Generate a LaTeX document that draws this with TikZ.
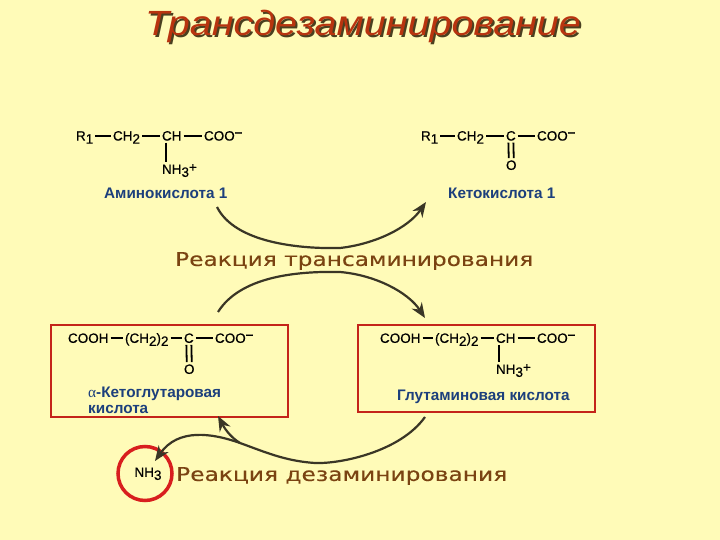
\documentclass[tikz,border=0pt]{standalone}
\usepackage{graphicx}
\usepackage{fontspec}
\setmainfont{Liberation Sans}
\newfontfamily\chemf[FakeBold=0.45]{Liberation Sans}
\newfontfamily\greekf{Liberation Serif}
\newfontfamily\rfont[FakeBold=0.2]{DejaVu Sans}
\usetikzlibrary{arrows.meta}
\definecolor{bgc}{HTML}{FFFBB8}
\definecolor{boxred}{HTML}{C4241A}
\definecolor{ringred}{HTML}{D81E1E}
\definecolor{navy}{HTML}{1C3F7C}
\definecolor{brownc}{HTML}{7A4312}
\definecolor{titlec}{HTML}{B8340F}
\definecolor{shadowc}{HTML}{4A4020}
\definecolor{curvec}{HTML}{3A3626}
\newcommand{\lowr}[1]{\raisebox{-3pt}{#1}}
\newcommand{\minusup}{\raisebox{4pt}{\textbf{–}}}
\newcommand{\plusup}{\raisebox{2pt}{+}}
\tikzset{
  chem/.style={inner sep=0pt,outer sep=2pt,anchor=west,xshift=-2pt,text height=9.7pt,text depth=0pt,
    font=\chemf\fontsize{13.5}{15}\selectfont,text=black},
  bond/.style={line width=1.8pt,black},
  namelabel/.style={inner sep=0pt,anchor=west,font=\bfseries\fontsize{15.3}{16}\selectfont,text=navy,align=left},
  frame/.style={draw=boxred,line width=2.8pt,fill=none},
  curve/.style={draw=curvec,line width=2.2pt},
  head/.style={curve,-{Stealth[length=15pt,width=12pt]}},
  reaction/.style={inner sep=0pt,anchor=west,text=brownc},
  titletext/.style={inner sep=0pt,font=\itshape\fontsize{35}{40}\selectfont}
}
\begin{document}
\begin{tikzpicture}[x=1pt,y=-1pt]
\useasboundingbox (0,0) rectangle (720,540);
\fill[bgc] (0,0) rectangle (720,540);
% title
\node[titletext,text=shadowc] (titleshadow) at (365,28.5) {\resizebox{436pt}{\height}{Трансдезаминирование}};
\node[titletext,text=titlec] (title) at (363,26.5) {\resizebox{436pt}{\height}{Трансдезаминирование}};
% amino acid 1
\node[chem] (ar) at (76,135.7) {R\lowr{1}};
\node[chem] (ach) at (113,135.7) {CH\lowr{2}};
\node[chem] (ac) at (162,135.7) {CH};
\node[chem] (acoo) at (204,135.7) {COO\minusup};
\node[chem] (anh) at (162,169) {NH\lowr{3}\plusup};
\draw[bond] (ar.east) -- (ach.west);
\draw[bond] (ach.east) -- (ac.west);
\draw[bond] (ac.east) -- (acoo.west);
\draw[bond] ([xshift=6pt]ac.south west) -- ([xshift=6pt]anh.north west);
\node[namelabel] (aname) at (104,193) {Аминокислота 1};
% keto acid 1
\node[chem] (kr) at (421,135.7) {R\lowr{1}};
\node[chem] (kch) at (457,135.7) {CH\lowr{2}};
\node[chem] (kc) at (506,135.7) {C};
\node[chem] (kcoo) at (537,135.7) {COO\minusup};
\node[chem] (ko) at (506,165) {O};
\draw[bond] (kr.east) -- (kch.west);
\draw[bond] (kch.east) -- (kc.west);
\draw[bond] (kc.east) -- (kcoo.west);
\draw[bond] ([xshift=-2.5pt]kc.south) -- ([xshift=-2.5pt]ko.north);
\draw[bond] ([xshift=2.5pt]kc.south) -- ([xshift=2.5pt]ko.north);
\node[namelabel] (kname) at (448,193) {Кетокислота 1};
% reaction labels
\node[reaction] (trans) at (175,261) {\resizebox{358pt}{\height}{\rfont\fontsize{19}{22}\selectfont Реакция трансаминирования}};
\node[reaction] (deam) at (176,476) {\resizebox{331pt}{\height}{\rfont\fontsize{19}{22}\selectfont Реакция дезаминирования}};
% boxes
\node[frame,inner sep=0pt,minimum width=237pt,minimum height=92pt] (leftbox) at (169.5,371) {};
\node[frame,inner sep=0pt,minimum width=237pt,minimum height=87pt] (rightbox) at (476.5,368.5) {};
% alpha-ketoglutarate
\node[chem] (lcooh) at (68,338) {COOH};
\node[chem] (lch) at (125,338) {(CH\lowr{2})\lowr{2}};
\node[chem] (lc) at (184,338) {C};
\node[chem] (lcoo) at (215,338) {COO\minusup};
\node[chem] (lo) at (184,369) {O};
\draw[bond] (lcooh.east) -- (lch.west);
\draw[bond] (lch.east) -- (lc.west);
\draw[bond] (lc.east) -- (lcoo.west);
\draw[bond] ([xshift=-2.5pt]lc.south) -- ([xshift=-2.5pt]lo.north);
\draw[bond] ([xshift=2.5pt]lc.south) -- ([xshift=2.5pt]lo.north);
\node[namelabel] (lname) at (88,400) {{\greekf\mdseries α}-Кетоглутаровая\\кислота};
% glutamate
\node[chem] (rcooh) at (380,338) {COOH};
\node[chem] (rch) at (435,338) {(CH\lowr{2})\lowr{2}};
\node[chem] (rc) at (496,338) {CH};
\node[chem] (rcoo) at (537,338) {COO\minusup};
\node[chem] (rnh) at (496,369) {NH\lowr{3}\plusup};
\draw[bond] (rcooh.east) -- (rch.west);
\draw[bond] (rch.east) -- (rc.west);
\draw[bond] (rc.east) -- (rcoo.west);
\draw[bond] ([xshift=5pt]rc.south west) -- ([xshift=5pt]rnh.north west);
\node[namelabel] (rname) at (397,397) {Глутаминовая кислота};
% NH3 ring
\node[chem] (nh) at (134.5,472) {NH\lowr{3}};
\node[draw=ringred,line width=3.5pt,circle,inner sep=0pt,minimum size=54pt] (ring) at (145,473.5) {};
% curved arrows
\coordinate (c1a) at (217,207);
\coordinate (c1b) at (426,202);
\coordinate (c2a) at (218,312);
\coordinate (c2b) at (425,318);
\coordinate (c3a) at (425,417);
\coordinate (c3b) at (240,443);
\coordinate (c3c) at (155,461);
\coordinate (c3d) at (218,416);
\draw[head] (c1a) .. controls (235,243) and (300,249) .. (340,248) .. controls (375,244) and (408,228) .. (c1b);
\draw[head] (c2a) .. controls (240,277) and (295,271) .. (340,272) .. controls (375,275) and (408,292) .. (c2b);
\draw[curve] (c3a) .. controls (400,452) and (340,464) .. (315,463) .. controls (285,461) and (265,452) .. (c3b);
\draw[head] (c3b) .. controls (212,433) and (178,428) .. (c3c);
\draw[head] (c3b) .. controls (232,438) and (226,431) .. (c3d);
\end{tikzpicture}
\end{document}
